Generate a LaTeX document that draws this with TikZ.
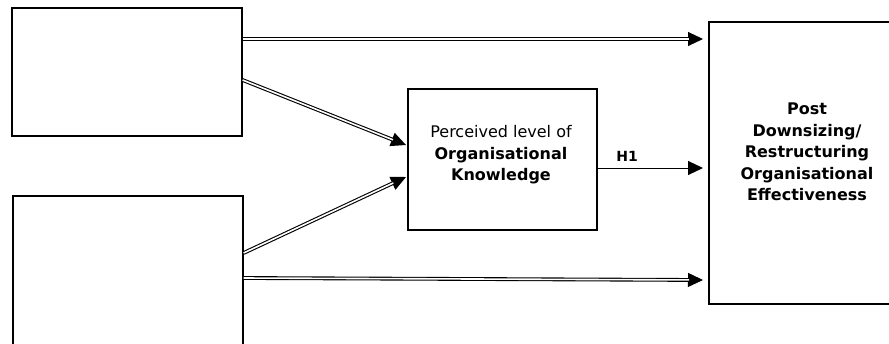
\documentclass[tikz,border=0pt]{standalone}
\usepackage{fontspec}
\setmainfont{DejaVu Sans}
\usetikzlibrary{arrows.meta,calc}
\tikzset{
  box/.style={draw=black, line width=1.6pt, fill=white, inner sep=0pt},
  tip/.style={-{Triangle[length=15pt,width=14pt]}, line width=1pt},
  dbl/.style={double=white, draw=black, line width=1.1pt, double distance=1.6pt},
  txt/.style={align=center, font=\fontsize{16}{21.5}\selectfont, inner sep=0pt},
}
\begin{document}
\begin{tikzpicture}[x=1pt,y=-1pt]
\useasboundingbox (0,0) rectangle (889,343);
\clip (0,0) rectangle (889,343);
% boxes
\node[box, anchor=north west, minimum width=230pt, minimum height=128pt] (tl) at (11,7) {};
\node[box, anchor=north west, minimum width=230pt, minimum height=170pt] (bl) at (12,195) {};
\node[box, anchor=north west, minimum width=189pt, minimum height=141pt] (mb) at (407,88) {};
\node[box, anchor=north west, minimum width=240pt, minimum height=282pt] (rb) at (708,21) {};
% labels
\node[txt] (mbt) at (501,155) {Perceived level of\\\textbf{Organisational}\\\textbf{Knowledge}};
\node[txt] (rbt) at (807,152) {\textbf{Post}\\\textbf{Downsizing/}\\\textbf{Restructuring}\\\textbf{Organisational}\\\textbf{Effectiveness}};
% end points on the box borders
\coordinate (a1) at ($(tl.north east)+(0,32)$);
\coordinate (a2) at ($(tl.north east)+(0,73)$);
\coordinate (b1) at ($(bl.north east)+(0,58)$);
\coordinate (b2) at ($(bl.north east)+(0,83)$);
\coordinate (r1) at ($(rb.north west)+(-5,18)$);
\coordinate (r2) at ($(rb.north west)+(-5,147)$);
\coordinate (r3) at ($(rb.north west)+(-5,259)$);
\coordinate (m1) at ($(mb.north west)+(-1,57)$);
\coordinate (m2) at ($(mb.north west)+(-1,89)$);
\coordinate (mo) at ($(mb.north east)+(0,80)$);
% double-line arrows: a plain tipped line, then the double line over it
\foreach \s/\e in {a1/r1, a2/m1, b1/m2, b2/r3}{
  \draw[tip] (\s) -- (\e);
  \draw[dbl, shorten >=14pt] (\s) -- (\e);
}
% hypothesis arrow
\draw[tip] (mo) -- node[above=3pt, font=\fontsize{14}{16}\selectfont\bfseries, pos=0.28] (h1) {H1} (r2);
\end{tikzpicture}
\end{document}
